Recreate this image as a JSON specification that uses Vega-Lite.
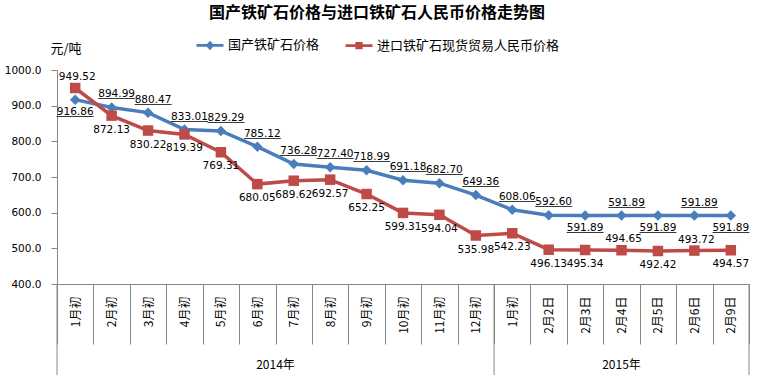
{
  "$schema": "https://vega.github.io/schema/vega-lite/v6.json",
  "width": 692,
  "height": 214,
  "autosize": {"type": "none"},
  "padding": {"left": 57, "top": 70, "right": 9, "bottom": 91},
  "background": "white",
  "title": {"text": "国产铁矿石价格与进口铁矿石人民币价格走势图", "font": "Noto Sans CJK SC", "fontSize": 16, "fontWeight": "bold", "color": "#000000", "anchor": "middle", "frame": "group", "dx": -26, "offset": -7, "baseline": "bottom"},
  "config": {"view": {"stroke": null}, "font": "DejaVu Sans"},
  "data": {"values": [
    {"date": "2014年1月初", "series": "国产铁矿石价格", "price": 916.86},
    {"date": "2014年2月初", "series": "国产铁矿石价格", "price": 894.99},
    {"date": "2014年3月初", "series": "国产铁矿石价格", "price": 880.47},
    {"date": "2014年4月初", "series": "国产铁矿石价格", "price": 833.01},
    {"date": "2014年5月初", "series": "国产铁矿石价格", "price": 829.29},
    {"date": "2014年6月初", "series": "国产铁矿石价格", "price": 785.12},
    {"date": "2014年7月初", "series": "国产铁矿石价格", "price": 736.28},
    {"date": "2014年8月初", "series": "国产铁矿石价格", "price": 727.40},
    {"date": "2014年9月初", "series": "国产铁矿石价格", "price": 718.99},
    {"date": "2014年10月初", "series": "国产铁矿石价格", "price": 691.18},
    {"date": "2014年11月初", "series": "国产铁矿石价格", "price": 682.70},
    {"date": "2014年12月初", "series": "国产铁矿石价格", "price": 649.36},
    {"date": "2015年1月初", "series": "国产铁矿石价格", "price": 608.06},
    {"date": "2015年2月2日", "series": "国产铁矿石价格", "price": 592.60},
    {"date": "2015年2月3日", "series": "国产铁矿石价格", "price": 591.89},
    {"date": "2015年2月4日", "series": "国产铁矿石价格", "price": 591.89},
    {"date": "2015年2月5日", "series": "国产铁矿石价格", "price": 591.89},
    {"date": "2015年2月6日", "series": "国产铁矿石价格", "price": 591.89},
    {"date": "2015年2月9日", "series": "国产铁矿石价格", "price": 591.89},
    {"date": "2014年1月初", "series": "进口铁矿石现货贸易人民币价格", "price": 949.52},
    {"date": "2014年2月初", "series": "进口铁矿石现货贸易人民币价格", "price": 872.13},
    {"date": "2014年3月初", "series": "进口铁矿石现货贸易人民币价格", "price": 830.22},
    {"date": "2014年4月初", "series": "进口铁矿石现货贸易人民币价格", "price": 819.39},
    {"date": "2014年5月初", "series": "进口铁矿石现货贸易人民币价格", "price": 769.31},
    {"date": "2014年6月初", "series": "进口铁矿石现货贸易人民币价格", "price": 680.05},
    {"date": "2014年7月初", "series": "进口铁矿石现货贸易人民币价格", "price": 689.62},
    {"date": "2014年8月初", "series": "进口铁矿石现货贸易人民币价格", "price": 692.57},
    {"date": "2014年9月初", "series": "进口铁矿石现货贸易人民币价格", "price": 652.25},
    {"date": "2014年10月初", "series": "进口铁矿石现货贸易人民币价格", "price": 599.31},
    {"date": "2014年11月初", "series": "进口铁矿石现货贸易人民币价格", "price": 594.04},
    {"date": "2014年12月初", "series": "进口铁矿石现货贸易人民币价格", "price": 535.98},
    {"date": "2015年1月初", "series": "进口铁矿石现货贸易人民币价格", "price": 542.23},
    {"date": "2015年2月2日", "series": "进口铁矿石现货贸易人民币价格", "price": 496.13},
    {"date": "2015年2月3日", "series": "进口铁矿石现货贸易人民币价格", "price": 495.34},
    {"date": "2015年2月4日", "series": "进口铁矿石现货贸易人民币价格", "price": 494.65},
    {"date": "2015年2月5日", "series": "进口铁矿石现货贸易人民币价格", "price": 492.42},
    {"date": "2015年2月6日", "series": "进口铁矿石现货贸易人民币价格", "price": 493.72},
    {"date": "2015年2月9日", "series": "进口铁矿石现货贸易人民币价格", "price": 494.57}
  ]},
  "encoding": {
    "x": {
      "field": "date", "type": "ordinal",
      "scale": {"type": "band", "paddingInner": 0, "paddingOuter": 0,
        "domain": ["2014年1月初", "2014年2月初", "2014年3月初", "2014年4月初", "2014年5月初", "2014年6月初", "2014年7月初", "2014年8月初", "2014年9月初", "2014年10月初", "2014年11月初", "2014年12月初", "2015年1月初", "2015年2月2日", "2015年2月3日", "2015年2月4日", "2015年2月5日", "2015年2月6日", "2015年2月9日"]},
      "axis": {"title": null, "labelExpr": "datum.value ? substring(datum.value, 5) : ''", "labelAngle": -90, "labelAlign": "right", "labelBaseline": "middle", "labelFont": "Noto Sans CJK SC", "labelFontSize": 12, "labelColor": "#000000", "tickBand": "extent", "tickSize": 60, "tickColor": "#868686", "tickWidth": 1, "domainColor": "#868686", "domainWidth": 1, "labelPadding": -48, "grid": false}
    },
    "y": {
      "field": "price", "type": "quantitative",
      "scale": {"domain": [400, 1000], "nice": false, "zero": false},
      "axis": {"title": "元/吨", "titleAngle": 0, "titleX": 8.5, "titleY": -21.7, "titleAlign": "center", "titleBaseline": "middle", "titleFont": "Noto Sans CJK SC", "titleFontSize": 13, "titleFontWeight": "normal", "titleColor": "#000000", "values": [400, 500, 600, 700, 800, 900, 1000], "format": ".1f", "labelFont": "DejaVu Sans", "labelFontSize": 10.5, "labelColor": "#000000", "tickSize": 6, "tickColor": "#868686", "domainColor": "#868686", "labelPadding": 10, "grid": false}
    }
  },
  "layer": [
    {
      "mark": {"type": "line", "strokeWidth": 3.5},
      "encoding": {
        "color": {"field": "series", "type": "nominal",
          "scale": {"domain": ["国产铁矿石价格", "进口铁矿石现货贸易人民币价格"], "range": ["#4A7EBB", "#BE4B48"]},
          "legend": {"orient": "none", "legendX": 138, "legendY": -40, "direction": "horizontal", "title": null, "labelFont": "Noto Sans CJK SC", "labelFontSize": 13, "labelColor": "#000000", "labelOffset": 3, "labelLimit": 400, "columnPadding": 20, "symbolSize": 729, "symbolStrokeWidth": 2.7,
            "encode": {"symbols": {"update": {
              "shape": {"signal": "datum.value === '国产铁矿石价格' ? 'M-1,0L1,0M0,-0.2L0.18,0L0,0.2L-0.18,0Z' : 'M-1,0L1,0M-0.17,-0.17L0.17,-0.17L0.17,0.17L-0.17,0.17Z'"},
              "fill": {"signal": "scale('color', datum.value)"},
              "stroke": {"signal": "scale('color', datum.value)"},
              "opacity": {"value": 1}
            }}}}
        }
      }
    },
    {
      "transform": [{"filter": {"field": "series", "equal": "国产铁矿石价格"}}],
      "mark": {"type": "point", "shape": "diamond", "filled": true, "size": 110, "opacity": 1, "color": "#4A7EBB"}
    },
    {
      "transform": [{"filter": {"field": "series", "equal": "进口铁矿石现货贸易人民币价格"}}],
      "mark": {"type": "point", "shape": "square", "filled": true, "size": 110, "opacity": 1, "color": "#BE4B48"}
    },
    {
      "transform": [{"filter": {"and": [{"field": "series", "equal": "国产铁矿石价格"}, {"not": {"field": "date", "oneOf": ["2014年1月初", "2015年2月3日", "2015年2月5日", "2015年2月9日"]}}]}}],
      "mark": {"type": "text", "font": "DejaVu Sans", "fontSize": 10.5, "color": "#000000", "align": "center", "baseline": "middle", "dx": 5, "dy": -13},
      "encoding": {"text": {"field": "price", "type": "quantitative", "format": ".2f"}}
    },
    {
      "transform": [{"filter": {"and": [{"field": "series", "equal": "国产铁矿石价格"}, {"not": {"field": "date", "oneOf": ["2014年1月初", "2015年2月3日", "2015年2月5日", "2015年2月9日"]}}]}}],
      "mark": {"type": "text", "font": "DejaVu Sans", "fontSize": 10.5, "color": "#000000", "align": "center", "baseline": "middle", "dx": 5, "dy": -14},
      "encoding": {"text": {"value": "_______"}}
    },
    {
      "transform": [{"filter": {"and": [{"field": "series", "equal": "国产铁矿石价格"}, {"field": "date", "oneOf": ["2014年1月初", "2015年2月3日", "2015年2月5日", "2015年2月9日"]}]}}],
      "mark": {"type": "text", "font": "DejaVu Sans", "fontSize": 10.5, "color": "#000000", "align": "center", "baseline": "middle", "dx": 0, "dy": 12},
      "encoding": {"text": {"field": "price", "type": "quantitative", "format": ".2f"}}
    },
    {
      "transform": [{"filter": {"and": [{"field": "series", "equal": "国产铁矿石价格"}, {"field": "date", "oneOf": ["2014年1月初", "2015年2月3日", "2015年2月5日", "2015年2月9日"]}]}}],
      "mark": {"type": "text", "font": "DejaVu Sans", "fontSize": 10.5, "color": "#000000", "align": "center", "baseline": "middle", "dx": 0, "dy": 11},
      "encoding": {"text": {"value": "_______"}}
    },
    {
      "transform": [{"filter": {"and": [{"field": "series", "equal": "进口铁矿石现货贸易人民币价格"}, {"field": "date", "oneOf": ["2014年1月初", "2015年2月4日", "2015年2月6日"]}]}}],
      "mark": {"type": "text", "font": "DejaVu Sans", "fontSize": 10.5, "color": "#000000", "align": "center", "baseline": "middle", "dx": 2, "dy": -11},
      "encoding": {"text": {"field": "price", "type": "quantitative", "format": ".2f"}}
    },
    {
      "transform": [{"filter": {"and": [{"field": "series", "equal": "进口铁矿石现货贸易人民币价格"}, {"not": {"field": "date", "oneOf": ["2014年1月初", "2015年2月4日", "2015年2月6日"]}}]}}],
      "mark": {"type": "text", "font": "DejaVu Sans", "fontSize": 10.5, "color": "#000000", "align": "center", "baseline": "middle", "dx": 0, "dy": 14},
      "encoding": {"text": {"field": "price", "type": "quantitative", "format": ".2f"}}
    },
    {
      "data": {"values": [{"date": "2014年1月初", "low": 140, "high": 400}, {"date": "2015年1月初", "low": 140, "high": 400}]},
      "mark": {"type": "rule", "color": "#868686", "strokeWidth": 1, "clip": false},
      "encoding": {"x": {"field": "date", "type": "ordinal", "bandPosition": 0}, "y": {"field": "high", "type": "quantitative"}, "y2": {"field": "low"}}
    },
    {
      "data": {"values": [{"date": "2015年2月9日", "low": 140, "high": 400}]},
      "mark": {"type": "rule", "color": "#868686", "strokeWidth": 1, "clip": false},
      "encoding": {"x": {"field": "date", "type": "ordinal", "bandPosition": 1}, "y": {"field": "high", "type": "quantitative"}, "y2": {"field": "low"}}
    },
    {
      "data": {"values": [{"date": "2014年7月初", "year": "2014年", "pos": 173}]},
      "mark": {"type": "text", "font": "Noto Sans CJK SC", "fontSize": 12, "color": "#000000", "align": "center", "baseline": "middle", "clip": false},
      "encoding": {"x": {"field": "date", "type": "ordinal", "bandPosition": 0}, "y": {"field": "pos", "type": "quantitative"}, "text": {"field": "year", "type": "nominal"}}
    },
    {
      "data": {"values": [{"date": "2015年2月4日", "year": "2015年", "pos": 173}]},
      "mark": {"type": "text", "font": "Noto Sans CJK SC", "fontSize": 12, "color": "#000000", "align": "center", "baseline": "middle", "clip": false},
      "encoding": {"x": {"field": "date", "type": "ordinal", "bandPosition": 0.5}, "y": {"field": "pos", "type": "quantitative"}, "text": {"field": "year", "type": "nominal"}}
    }
  ]
}
